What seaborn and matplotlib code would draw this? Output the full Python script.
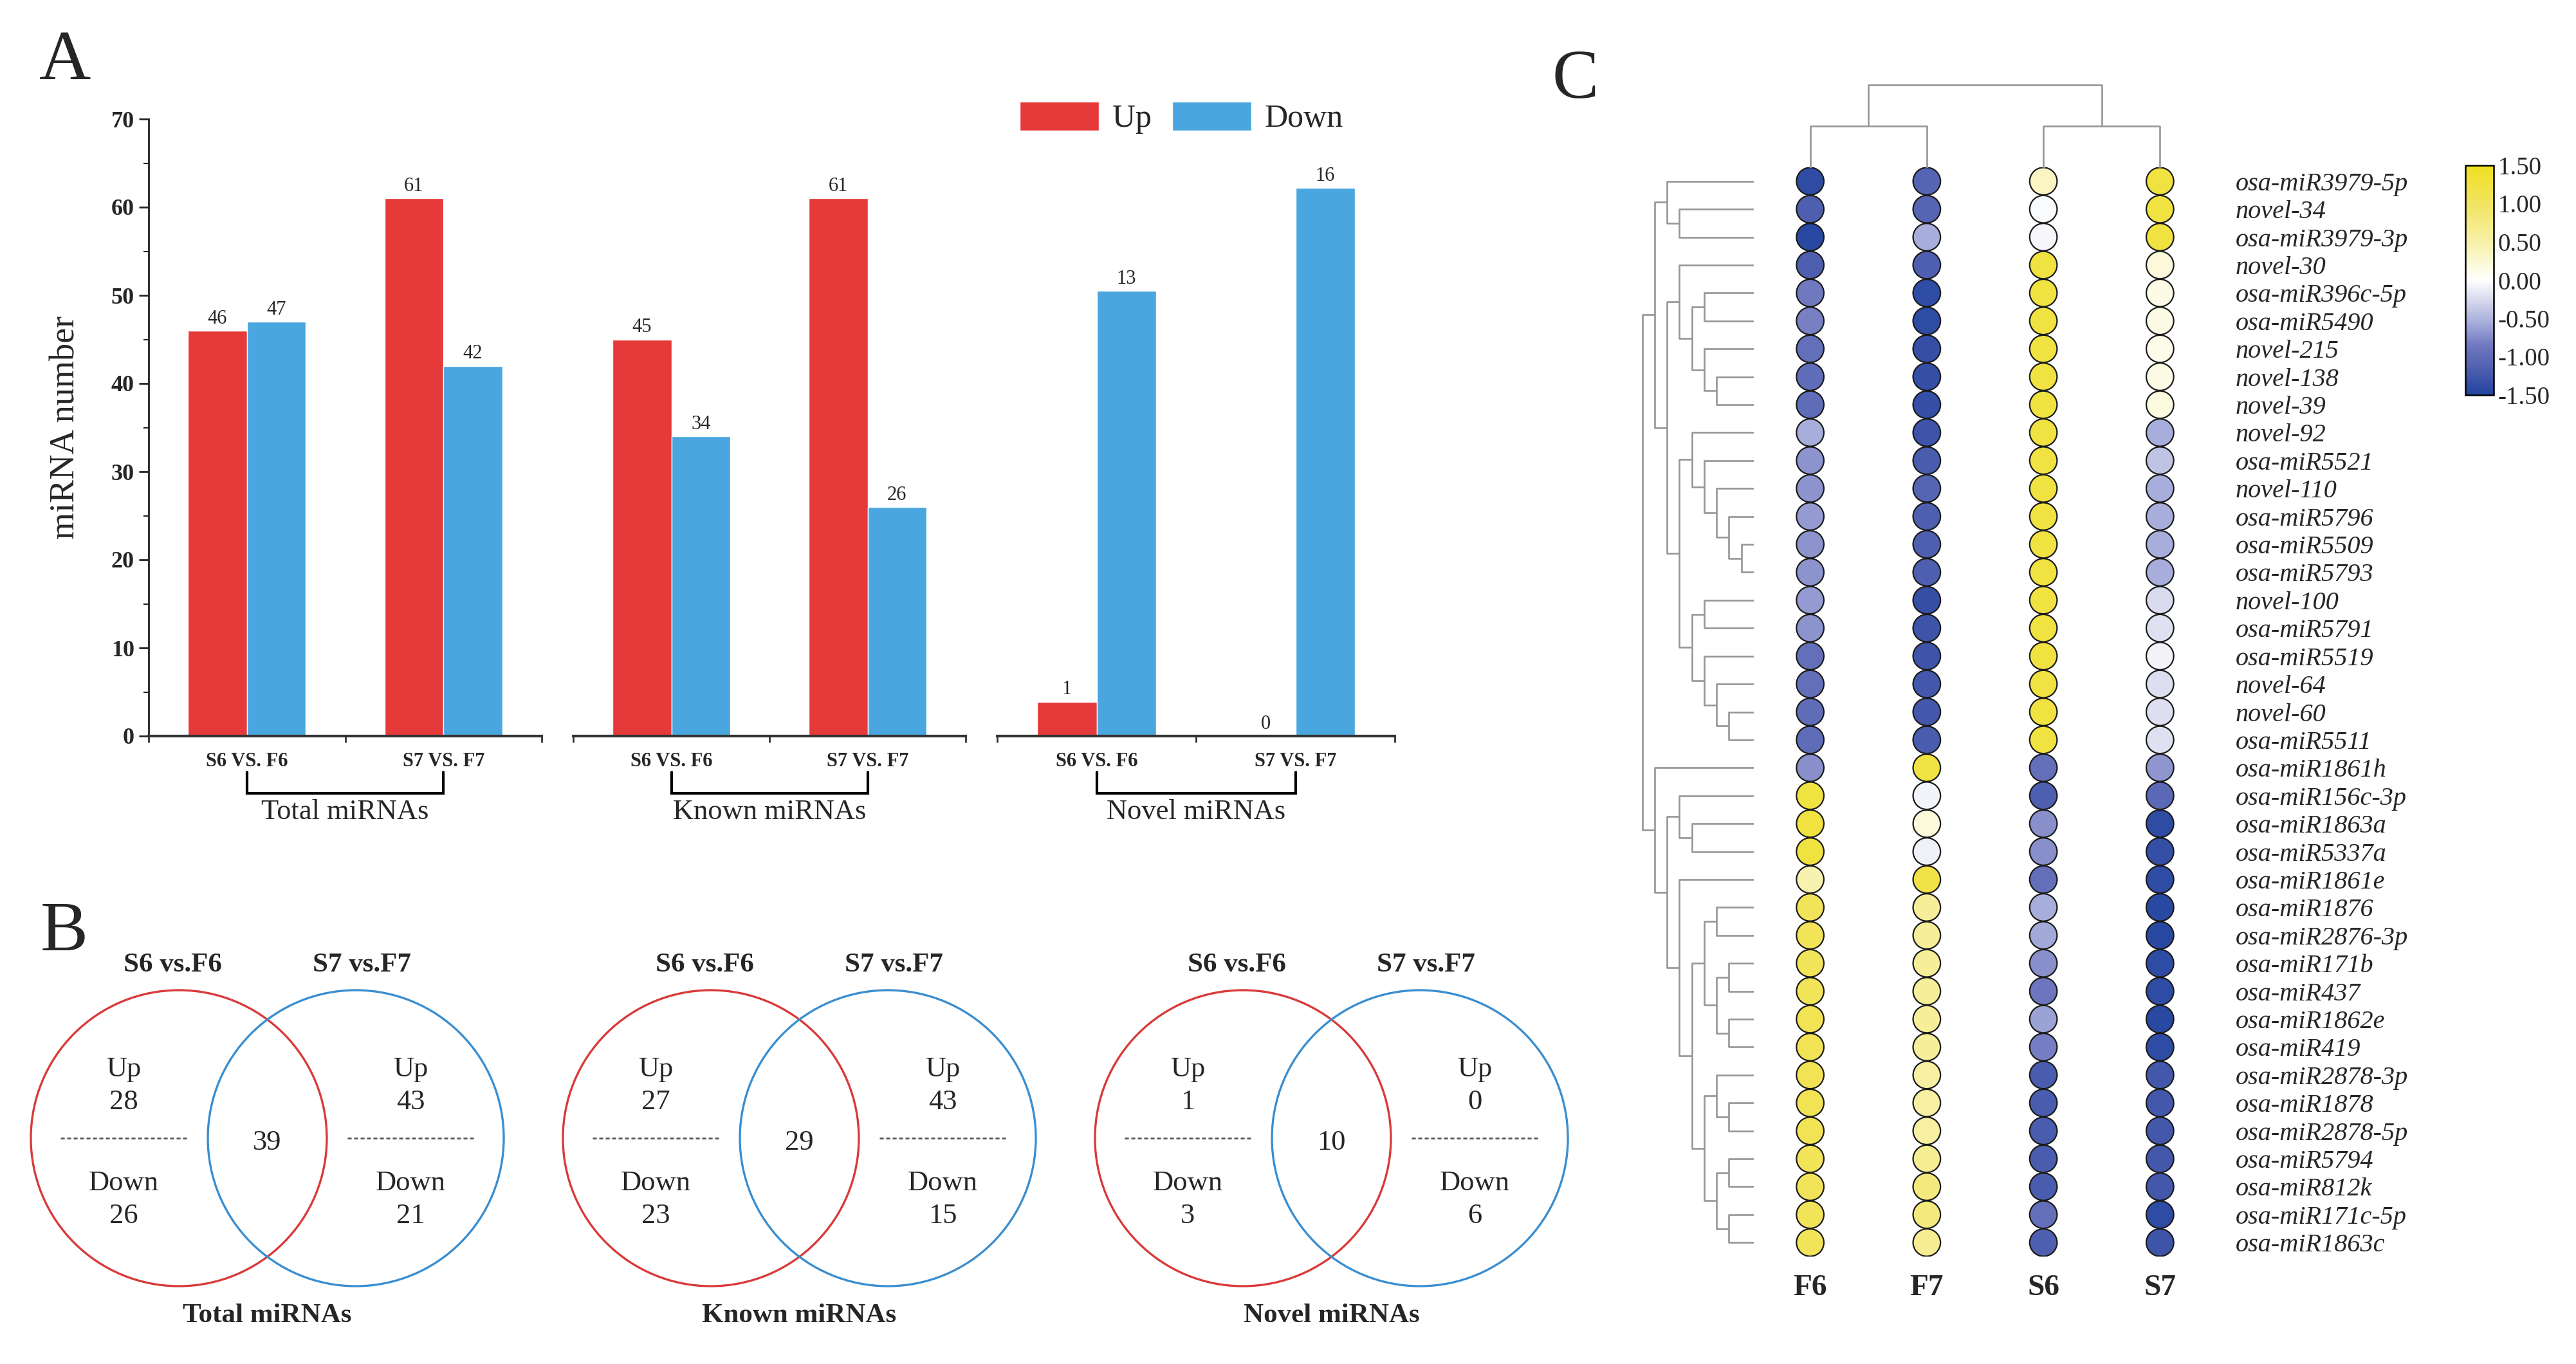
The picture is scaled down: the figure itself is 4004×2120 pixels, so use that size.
import numpy as np
import pandas as pd
import matplotlib
matplotlib.use('Agg')
import matplotlib.pyplot as plt
import matplotlib.transforms as mtransforms
from matplotlib.colors import LinearSegmentedColormap, Normalize
from matplotlib.cm import ScalarMappable
from matplotlib.patches import Circle, Patch
import seaborn as sns

# -----------------------------
# Data
# -----------------------------
comparisons = ['S6 VS. F6', 'S7 VS. F7']
group_titles = ['Total miRNAs', 'Known miRNAs', 'Novel miRNAs']

total_up = [46, 61]
total_down = [47, 42]
known_up = [45, 61]
known_down = [34, 26]
novel_up = [1, 0]
novel_down = [13, 16]
# the novel bars are drawn on their own (enlarged) scale in the figure
novel_up_bar = [3.9, 0]
novel_down_bar = [50.5, 62.2]

# Venn counts (B)
venn_titles = ['Total miRNAs', 'Known miRNAs', 'Novel miRNAs']
venn_left_name = 'S6 vs.F6'
venn_right_name = 'S7 vs.F7'
s6_only_up = [28, 27, 1]
s6_only_down = [26, 23, 3]
shared = [39, 29, 10]
s7_only_up = [43, 43, 0]
s7_only_down = [21, 15, 6]

# Heatmap (C)
samples = ['F6', 'F7', 'S6', 'S7']
mirnas = ['osa-miR3979-5p', 'novel-34', 'osa-miR3979-3p', 'novel-30', 'osa-miR396c-5p',
          'osa-miR5490', 'novel-215', 'novel-138', 'novel-39', 'novel-92', 'osa-miR5521',
          'novel-110', 'osa-miR5796', 'osa-miR5509', 'osa-miR5793', 'novel-100', 'osa-miR5791',
          'osa-miR5519', 'novel-64', 'novel-60', 'osa-miR5511', 'osa-miR1861h', 'osa-miR156c-3p',
          'osa-miR1863a', 'osa-miR5337a', 'osa-miR1861e', 'osa-miR1876', 'osa-miR2876-3p',
          'osa-miR171b', 'osa-miR437', 'osa-miR1862e', 'osa-miR419', 'osa-miR2878-3p',
          'osa-miR1878', 'osa-miR2878-5p', 'osa-miR5794', 'osa-miR812k', 'osa-miR171c-5p',
          'osa-miR1863c']
f6 = [-1.4, -1.15, -1.45, -1.15, -0.85, -0.8, -0.95, -1.0, -1.0, -0.55, -0.7, -0.7, -0.65,
      -0.7, -0.7, -0.65, -0.7, -0.95, -0.95, -1.0, -1.0, -0.72, 1.25, 1.25, 1.25, 0.45, 1.05,
      1.05, 1.05, 1.05, 1.1, 1.1, 1.1, 1.1, 1.1, 1.05, 1.05, 1.05, 1.05]
f7 = [-1.1, -1.1, -0.55, -1.15, -1.4, -1.4, -1.35, -1.35, -1.35, -1.3, -1.2, -1.1, -1.15,
      -1.15, -1.15, -1.35, -1.3, -1.3, -1.25, -1.25, -1.2, 1.25, -0.08, 0.2, -0.1, 1.2, 0.6,
      0.6, 0.6, 0.6, 0.6, 0.6, 0.55, 0.55, 0.55, 0.65, 0.8, 0.8, 0.65]
s6 = [0.35, -0.03, -0.05, 1.25, 1.25, 1.25, 1.25, 1.25, 1.25, 1.25, 1.25, 1.25, 1.25, 1.25,
      1.25, 1.25, 1.25, 1.25, 1.25, 1.25, 1.25, -0.95, -1.15, -0.72, -0.72, -0.95, -0.55,
      -0.58, -0.72, -0.88, -0.62, -0.82, -1.2, -1.2, -1.2, -1.2, -1.2, -0.95, -1.15]
s7 = [1.25, 1.25, 1.25, 0.2, 0.15, 0.15, 0.12, 0.15, 0.18, -0.55, -0.4, -0.55, -0.55, -0.55,
      -0.55, -0.25, -0.2, -0.08, -0.22, -0.22, -0.2, -0.68, -1.05, -1.4, -1.35, -1.4, -1.45,
      -1.45, -1.4, -1.4, -1.45, -1.4, -1.25, -1.25, -1.25, -1.25, -1.25, -1.4, -1.3]

# row dendrogram as nested (level, left, right); leaves are row indices
row_tree = (9,
            (8, (7, 0, (6, 1, 2)),
                (7, (6, 3, (5, (4, 4, 5), (4, 6, (3, 7, 8)))),
                    (6, (5, 9, (4, 10, (3, 11, (2, 12, (1, 13, 14))))),
                        (5, (4, 15, 16), (4, 17, (3, 18, (2, 19, 20))))))),
            (8, 21,
                (7, (6, 22, (5, 23, 24)),
                    (6, 25, (5, (4, (3, 26, 27), (3, (2, 28, 29), (2, 30, 31))),
                                (4, (3, 32, (2, 33, 34)), (3, (2, 35, 36), (2, 37, 38))))))))
col_tree = (2, (1, 0, 1), (1, 2, 3))
cbar_ticks = [-1.5, -1.0, -0.5, 0.0, 0.5, 1.0, 1.5]

# -----------------------------
# Style
# -----------------------------
sns.set_theme(style='white')
plt.rcParams['font.family'] = ['Liberation Serif', 'DejaVu Serif']

RED = '#E63A3A'
BLUE = '#4AA6DE'
VRED = '#D93A3A'
VBLUE = '#3A8ED0'

W, H = 4004, 2120
fig = plt.figure(figsize=(W / 100, H / 100), dpi=100)


def box(x0, y0, x1, y1):
    # pixel box (top-left origin) -> figure fraction rect
    return [x0 / W, 1 - y1 / H, (x1 - x0) / W, (y1 - y0) / H]


# -----------------------------
# A: bar charts
# -----------------------------
bar_sets = [(total_up, total_down, total_up, total_down),
            (known_up, known_down, known_up, known_down),
            (novel_up_bar, novel_down_bar, novel_up, novel_down)]
ax_spans = [(231, 842), (891, 1501), (1550, 2168)]
y_top, y_base = 185, 1144

for i, (up_h, down_h, up_lab, down_lab) in enumerate(bar_sets):
    x0, x1 = ax_spans[i]
    ax = fig.add_axes(box(x0, y_top, x1, y_base))
    df = pd.DataFrame({'comparison': comparisons * 2,
                       'direction': ['Up'] * 2 + ['Down'] * 2,
                       'height': list(up_h) + list(down_h)})
    sns.barplot(data=df, x='comparison', y='height', hue='direction',
                order=comparisons, hue_order=['Up', 'Down'],
                palette={'Up': RED, 'Down': BLUE}, width=0.6, saturation=1,
                errorbar=None, legend=False, ax=ax)
    ax.set_xlim(-0.5, 1.5)
    ax.set_ylim(0, 70)
    ax.set_xlabel('')
    ax.set_ylabel('')
    for cont, labs in zip(ax.containers, [up_lab, down_lab]):
        ax.bar_label(cont, labels=[str(v) for v in labs], padding=3, fontsize=22)

    for s in ['top', 'right']:
        ax.spines[s].set_visible(False)
    ax.spines['bottom'].set_linewidth(3)
    ax.spines['bottom'].set_color('#333333')
    ax.set_xticks([0, 1])
    ax.set_xticklabels(comparisons, fontsize=22, fontweight='bold')
    ax.set_xticks([-0.5, 0.5, 1.5], minor=True)
    ax.tick_params(axis='x', which='major', bottom=True, length=0, pad=18)
    ax.tick_params(axis='x', which='minor', bottom=True, length=7, width=2,
                   color='#333333', direction='out')
    if i == 0:
        ax.spines['left'].set_linewidth(2)
        ax.spines['left'].set_color('#222222')
        ax.set_yticks(np.arange(0, 71, 10))
        ax.set_yticks(np.arange(5, 70, 10), minor=True)
        ax.set_yticklabels([str(v) for v in range(0, 71, 10)], fontsize=26, fontweight='bold')
        ax.tick_params(axis='y', which='major', left=True, length=11, width=2, pad=5,
                       color='#222222', direction='out')
        ax.tick_params(axis='y', which='minor', left=True, length=6, width=1.5,
                       color='#222222', direction='out')
    else:
        ax.spines['left'].set_visible(False)
        ax.set_yticks([])

    trans = mtransforms.blended_transform_factory(ax.transData, ax.transAxes)
    span = y_base - y_top
    yb_top = (y_base - 1200) / span
    yb_bot = (y_base - 1233) / span
    ax.plot([0, 0, 1, 1], [yb_top, yb_bot, yb_bot, yb_top], transform=trans,
            color='black', lw=3, clip_on=False, solid_joinstyle='miter')
    ax.text(0.5, (y_base - 1262) / span, group_titles[i], transform=trans,
            ha='center', va='center', fontsize=32)

fig.text(102 / W, 1 - 664 / H, 'miRNA number', rotation=90, ha='center', va='center',
         fontsize=39)
fig.legend(handles=[Patch(facecolor=RED, label='Up'), Patch(facecolor=BLUE, label='Down')],
           loc='upper left', bbox_to_anchor=(1585 / W, 1 - 158 / H), ncol=2, frameon=False,
           fontsize=36, handlelength=2.45, handleheight=1.0, handletextpad=0.42,
           columnspacing=0.65, borderpad=0, borderaxespad=0)

# -----------------------------
# B: Venn diagrams
# -----------------------------
R = 230
off = 0.598
for i in range(3):
    cx, cy = 415.5 + i * 827, 1769
    ax = fig.add_axes(box(cx - 1.8 * R, cy - 1.45 * R, cx + 1.8 * R, cy + 1.45 * R))
    ax.set_xlim(-1.8, 1.8)
    ax.set_ylim(-1.45, 1.45)
    ax.axis('off')
    ax.add_patch(Circle((-off, 0), 1, fill=False, ec=VRED, lw=2.4))
    ax.add_patch(Circle((off, 0), 1, fill=False, ec=VBLUE, lw=2.4))
    ax.text(-0.64, 1.17, venn_left_name, ha='center', va='center', fontsize=31,
            fontweight='bold', clip_on=False)
    ax.text(0.64, 1.17, venn_right_name, ha='center', va='center', fontsize=31,
            fontweight='bold', clip_on=False)
    for side, up, down in [(-0.97, s6_only_up[i], s6_only_down[i]),
                           (0.97, s7_only_up[i], s7_only_down[i])]:
        ax.text(side, 0.465, 'Up', ha='center', va='center', fontsize=32)
        ax.text(side, 0.243, str(up), ha='center', va='center', fontsize=32)
        ax.text(side, -0.304, 'Down', ha='center', va='center', fontsize=32)
        ax.text(side, -0.526, str(down), ha='center', va='center', fontsize=32)
        ax.plot([side - 0.43, side + 0.43], [0, 0], color='#555555', lw=2,
                ls=(0, (2.2, 1.4)))
    ax.text(0, -0.03, str(shared[i]), ha='center', va='center', fontsize=32)
    ax.text(0, -1.2, venn_titles[i], ha='center', va='center', fontsize=31,
            fontweight='bold', clip_on=False)

# -----------------------------
# C: dot heatmap with dendrograms
# -----------------------------
cmap = LinearSegmentedColormap.from_list('byw', [
    (0.0, '#23449F'), (0.1167, '#5060B0'), (0.2167, '#7078C0'), (0.3167, '#A8AEDB'),
    (0.4167, '#D8DAEE'), (0.5, '#FFFFFF'), (0.65, '#F8F2B0'), (0.8333, '#F2E460'),
    (1.0, '#EFE020')])
norm = Normalize(-1.5, 1.5)

values = pd.DataFrame({'F6': f6, 'F7': f7, 'S6': s6, 'S7': s7})
values['row'] = np.arange(len(mirnas))
long = values.melt(id_vars='row', var_name='sample', value_name='value')
long['col'] = long['sample'].map({s: k for k, s in enumerate(samples)})

hx0, hx1, hy0, hy1 = 2723, 3448, 260, 1953
ax_h = fig.add_axes(box(hx0, hy0, hx1, hy1))
sns.scatterplot(data=long, x='col', y='row', hue='value', palette=cmap, hue_norm=norm,
                s=940, edgecolor='#1a1a1a', linewidth=1.6, legend=False, ax=ax_h, zorder=3)
ax_h.set_xlim(-0.5, 3.5)
ax_h.set_ylim(len(mirnas) - 0.5, -0.5)
ax_h.set_xlabel('')
ax_h.set_ylabel('')
for s in ax_h.spines.values():
    s.set_visible(False)
ax_h.yaxis.tick_right()
ax_h.set_yticks(range(len(mirnas)))
ax_h.set_yticklabels(mirnas, fontstyle='italic', fontsize=29)
ax_h.tick_params(axis='y', length=0, pad=19)
ax_h.set_xticks(range(len(samples)))
ax_h.set_xticklabels(samples, fontweight='bold', fontsize=34)
ax_h.tick_params(axis='x', length=0, pad=20)


def draw_tree(ax, node, orient):
    if isinstance(node, int):
        return float(node), 0.0
    level, left, right = node
    p1, h1 = draw_tree(ax, left, orient)
    p2, h2 = draw_tree(ax, right, orient)
    hs = [h1, level, level, h2]
    ps = [p1, p1, p2, p2]
    if orient == 'left':
        ax.plot(hs, ps, color='#969696', lw=1.9, solid_capstyle='butt')
    else:
        ax.plot(ps, hs, color='#969696', lw=1.9, solid_capstyle='butt')
    return (p1 + p2) / 2, level


ax_rd = fig.add_axes(box(2545, hy0, 2726, hy1))
draw_tree(ax_rd, row_tree, 'left')
ax_rd.set_xlim(9.4, 0)
ax_rd.set_ylim(len(mirnas) - 0.5, -0.5)
ax_rd.axis('off')

ax_cd = fig.add_axes(box(hx0, 119, hx1, 261))
draw_tree(ax_cd, col_tree, 'top')
ax_cd.set_xlim(-0.5, 3.5)
ax_cd.set_ylim(0, 2.2)
ax_cd.axis('off')

cax = fig.add_axes(box(3832, 257, 3876, 614))
cb = fig.colorbar(ScalarMappable(norm=norm, cmap=cmap), cax=cax, ticks=cbar_ticks)
cb.ax.set_yticklabels(['{:.2f}'.format(t) for t in cbar_ticks])
cb.ax.tick_params(length=0, pad=5, labelsize=28)
cb.outline.set_linewidth(1.8)
cb.outline.set_edgecolor('black')

# panel letters
fig.text(101 / W, 1 - 96 / H, 'A', ha='center', va='center', fontsize=80)
fig.text(100 / W, 1 - 1450 / H, 'B', ha='center', va='center', fontsize=80)
fig.text(2449 / W, 1 - 126 / H, 'C', ha='center', va='center', fontsize=78)

fig.savefig('out.png', dpi=100, facecolor='white')
